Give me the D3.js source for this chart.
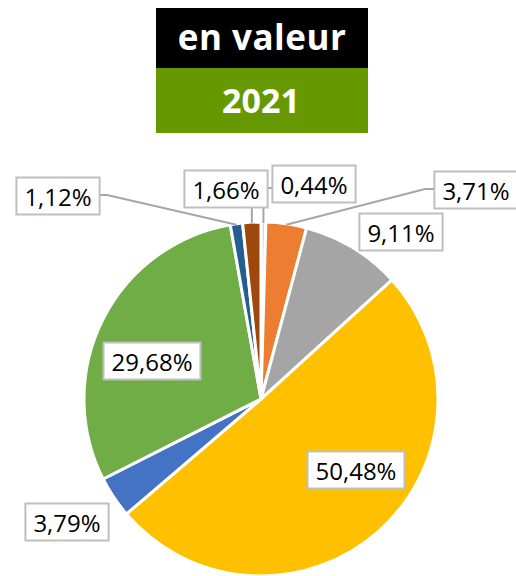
<!DOCTYPE html>
<html>
<head>
<meta charset="utf-8">
<script src="https://cdn.jsdelivr.net/npm/d3@7"></script>
<style>
  html, body { margin: 0; padding: 0; background: #fff; }
  svg { display: block; }
</style>
</head>
<body>
<svg id="chart" width="516" height="576"></svg>
<script>
// ---- data ----
const titleLine1 = "en valeur";
const titleLine2 = "2021";
const sliceKeys = ["s1", "s2", "s3", "s4", "s5", "s6", "s7", "s8"];
const sliceValues = [0.44, 3.71, 9.11, 50.48, 3.79, 29.68, 1.12, 1.66];
const sliceColors = ["#C5DBEF", "#ED7D31", "#A5A5A5", "#FFC000", "#4472C4", "#70AD47", "#255E91", "#9E480E"];

// ---- label layout (offsets from pie centre, px) ----
const labelOffsets = [[53, -215], [215, -209], [140, -167], [95, 71], [-194, 123], [-109, -38], [-203, -203], [-35, -210]];
const leaderElbows = [[2, -211], [164, -210], null, null, null, null, [-154, -204], "vertical"];

const width = 516, height = 576;
const cx = 261, cy = 399, R = 177;
const svg = d3.select("#chart");

// ---- title boxes ----
svg.append("rect").attr("x", 156).attr("y", 8).attr("width", 212).attr("height", 60).attr("fill", "#000");
svg.append("rect").attr("x", 156).attr("y", 68).attr("width", 212).attr("height", 65).attr("fill", "#669900");
svg.append("text").attr("x", 262).attr("y", 50).attr("text-anchor", "middle")
  .attr("font-family", "'Open Sans', sans-serif").attr("font-weight", 700).attr("font-size", 35)
  .attr("letter-spacing", 0.5)
  .attr("fill", "#fff").text(titleLine1);
svg.append("text").attr("x", 261).attr("y", 113).attr("text-anchor", "middle")
  .attr("font-family", "'Open Sans', sans-serif").attr("font-weight", 700).attr("font-size", 34)
  .attr("fill", "#fff").text(titleLine2);

// ---- pie ----
const data = sliceKeys.map((k, i) => ({ key: k, value: sliceValues[i], color: sliceColors[i], i }));
const pie = d3.pie().sort(null).value(d => d.value);
const arcs = pie(data);
const arc = d3.arc().innerRadius(0).outerRadius(R);
const g = svg.append("g").attr("transform", `translate(${cx},${cy})`);

g.selectAll("path.slice").data(arcs).join("path")
  .attr("class", "slice")
  .attr("d", arc)
  .attr("fill", d => d.data.color)
  .attr("stroke", "#fff")
  .attr("stroke-width", 3)
  .attr("stroke-linejoin", "miter");

const fmt = v => d3.format(".2f")(v).replace(".", ",") + "%";

// measure and place labels
const labelLayer = g.append("g");
const leaderLayer = labelLayer.append("g");
const boxLayer = labelLayer.append("g");

arcs.forEach((a, i) => {
  const [ox, oy] = labelOffsets[i];
  const grp = boxLayer.append("g");
  const rect = grp.append("rect");
  const t = grp.append("text")
    .attr("x", ox).attr("y", oy)
    .attr("text-anchor", "middle").attr("dominant-baseline", "central")
    .attr("font-family", "'Open Sans', sans-serif").attr("font-size", 24)
    .attr("fill", "#000").text(fmt(a.data.value));
  const bb = t.node().getBBox();
  const bw = bb.width + 16, bh = 37;
  const bx = ox - bw / 2, by = oy - bh / 2;
  rect.attr("x", bx).attr("y", by).attr("width", bw).attr("height", bh)
    .attr("fill", "#fff").attr("stroke", "#BFBFBF").attr("stroke-width", 2);

  const el = leaderElbows[i];
  if (el) {
    const mid = (a.startAngle + a.endAngle) / 2;
    const p0 = [Math.sin(mid) * (R - 1), -Math.cos(mid) * (R - 1)];
    let pts;
    if (el === "vertical") {
      pts = [p0, [p0[0], by + bh]];
    } else {
      const attach = el[0] < bx ? [bx, el[1]] : (el[0] > bx + bw ? [bx + bw, el[1]] : [el[0], by + bh]);
      const elbow = el[0] === 2 ? [p0[0], el[1]] : el;
      pts = [p0, elbow, attach];
    }
    leaderLayer.append("path")
      .attr("d", d3.line()(pts))
      .attr("fill", "none").attr("stroke", "#A6A6A6").attr("stroke-width", 2);
  }
});
</script>
</body>
</html>
